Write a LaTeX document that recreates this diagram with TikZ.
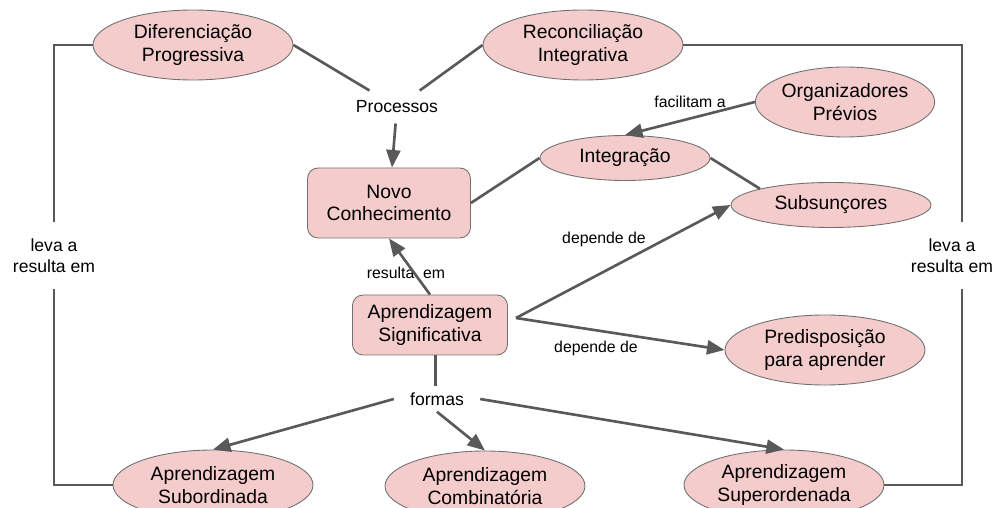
\documentclass[tikz,border=0pt]{standalone}
\usepackage{fontspec}
\setmainfont{Liberation Sans}
\usetikzlibrary{arrows.meta, positioning, shapes.geometric}
\definecolor{rosa}{HTML}{F4CCCC}
\definecolor{linha}{HTML}{595959}
\definecolor{borda}{HTML}{707070}

\begin{document}
\begin{tikzpicture}[
    conceito/.style={ellipse, draw=borda, fill=rosa, line width=0.5pt,
      minimum width=4cm, minimum height=1.4cm, inner sep=0pt, align=center,
      font=\fontsize{11}{13}\selectfont},
    caixa/.style={rectangle, rounded corners=6pt, draw=borda, fill=rosa,
      line width=0.5pt, align=center, font=\fontsize{11}{13}\selectfont},
    frase/.style={align=center, font=\fontsize{10}{12}\selectfont},
    rotulo/.style={inner sep=1pt, font=\fontsize{9}{11}\selectfont},
    liga/.style={draw=linha, line width=1.5pt},
    seta/.style={liga, -{Triangle[length=10pt,width=8pt]}}
  ]
       \clip (0,0) rectangle (19.94,10.16);
       % conceitos
       \node[conceito] (dif) at (3.86,9.26) {Diferenciação\\Progressiva};
       \node[conceito] (rec) at (11.66,9.26) {Reconciliação\\Integrativa};
       \node[frase, inner xsep=2pt, inner ysep=0.2cm] (proc) at (7.94,8.02) {Processos};
       \node[caixa, minimum width=3.26cm, minimum height=1.4cm] (novo) at (7.78,6.10) {Novo\\Conhecimento};
       \node[conceito, minimum width=3.4cm, minimum height=0.9cm] (integ) at (12.5,7.0) {Integração};
       \node[conceito, minimum width=3.42cm] (org) at (16.9,8.12) {Organizadores\\Prévios};
       \node[conceito, minimum height=0.9cm] (subs) at (16.62,6.06) {Subsunçores};
       \node[caixa, minimum width=3.1cm, minimum height=1.2cm] (sig) at (8.6,3.66) {Aprendizagem\\Significativa};
       \node[frase, inner xsep=0.32cm, inner ysep=0.12cm] (formas) at (8.74,2.18) {formas};
       \node[conceito] (pred) at (16.5,3.16) {Predisposição\\para aprender};
       \node[conceito] (subord) at (4.26,0.46) {Aprendizagem\\Subordinada};
       \node[conceito] (comb) at (9.7,0.44) {Aprendizagem\\Combinatória};
       \node[conceito] (super) at (15.68,0.46) {Aprendizagem\\Superordenada};
       \node[frase, inner ysep=9pt] (leva_e) at (1.08,5.05) {leva a\\resulta em};
       \node[frase, inner ysep=9pt] (leva_d) at (19.04,5.05) {leva a\\resulta em};
       % rotulos das ligacoes
       \node[rotulo] (lbl_fac) at (13.8,8.12) {facilitam a};
       \node[rotulo] (lbl_res) at (8.12,4.7) {resulta\ \ em};
       \node[rotulo] (lbl_dep1) at (12.08,5.38) {depende de};
       \node[rotulo] (lbl_dep2) at (11.92,3.2) {depende de};
       \coordinate (sig_r) at ([shift={(0.16,0.14)}]sig.east);
       % ligacoes
       \draw[liga] (dif.west) -| (leva_e.north);
       \draw[liga] (leva_e.south) |- (subord.west);
       \draw[liga] (rec.east) -| ([xshift=2mm]leva_d.north);
       \draw[liga] ([xshift=2mm]leva_d.south) |- (super.east);
       \draw[liga] (dif.east) -- (proc);
       \draw[liga] (rec.west) -- (proc);
       \draw[seta] (proc) -- (novo);
       \draw[liga] (novo.east) -- (integ.west);
       \draw[seta] (org.west) -- (integ.north);
       \draw[liga] (integ.east) -- (subs.north west);
       \draw[seta] (sig.north) -- (novo.south);
       \draw[seta] (sig_r) -- (subs.west);
       \draw[seta] (sig_r) -- (pred.west);
       \draw[liga] ([xshift=3pt]sig.south) -- ([xshift=3pt]sig.south |- formas.north);
       \draw[seta] (formas.west) -- (subord.north);
       \draw[seta] (formas.south) -- (comb.north);
       \draw[seta] (formas.east) -- (super.north);
    \end{tikzpicture}
\end{document}
